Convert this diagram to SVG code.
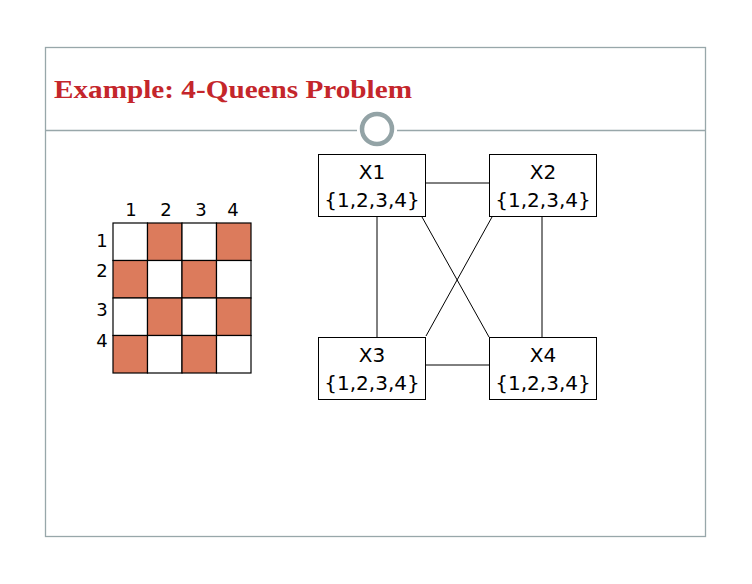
<svg xmlns="http://www.w3.org/2000/svg" width="752" height="584" viewBox="0 0 752 584">
<style>
.frame{fill:none;stroke:#98a7aa;stroke-width:1.3}
.cell{stroke:#000;stroke-width:1.2}
.w{fill:#fff}
.o{fill:#dc7b5c}
.lbl{font-family:"DejaVu Sans",sans-serif;font-size:18px;fill:#000;text-anchor:middle}
.box{fill:#fff;stroke:#000;stroke-width:1}
.nt{font-family:"DejaVu Sans",sans-serif;font-size:20px;fill:#000;text-anchor:middle}
.edge{stroke:#000;stroke-width:1;fill:none}
</style>
<rect width="752" height="584" fill="#fff"/>
<rect class="frame" x="45.5" y="47.5" width="660" height="489"/>
<line class="frame" x1="45" y1="130.5" x2="357" y2="130.5"/>
<line class="frame" x1="397" y1="130.5" x2="705" y2="130.5"/>
<circle cx="377" cy="129" r="15" fill="#fff" stroke="#93a3a6" stroke-width="4.5"/>
<text x="54" y="98" font-family="'Liberation Serif',serif" font-weight="bold" font-size="24.5" fill="#c4262b" textLength="358" lengthAdjust="spacingAndGlyphs">Example: 4-Queens Problem</text>
<g id="board">
<rect class="cell w" x="113" y="223" width="34.5" height="37.5"/>
<rect class="cell o" x="147.5" y="223" width="34.5" height="37.5"/>
<rect class="cell w" x="182" y="223" width="34.5" height="37.5"/>
<rect class="cell o" x="216.5" y="223" width="34.5" height="37.5"/>
<rect class="cell o" x="113" y="260.5" width="34.5" height="37.5"/>
<rect class="cell w" x="147.5" y="260.5" width="34.5" height="37.5"/>
<rect class="cell o" x="182" y="260.5" width="34.5" height="37.5"/>
<rect class="cell w" x="216.5" y="260.5" width="34.5" height="37.5"/>
<rect class="cell w" x="113" y="298" width="34.5" height="37.5"/>
<rect class="cell o" x="147.5" y="298" width="34.5" height="37.5"/>
<rect class="cell w" x="182" y="298" width="34.5" height="37.5"/>
<rect class="cell o" x="216.5" y="298" width="34.5" height="37.5"/>
<rect class="cell o" x="113" y="335.5" width="34.5" height="37.5"/>
<rect class="cell w" x="147.5" y="335.5" width="34.5" height="37.5"/>
<rect class="cell o" x="182" y="335.5" width="34.5" height="37.5"/>
<rect class="cell w" x="216.5" y="335.5" width="34.5" height="37.5"/>
<text class="lbl" x="131" y="216">1</text>
<text class="lbl" x="166" y="216">2</text>
<text class="lbl" x="201" y="216">3</text>
<text class="lbl" x="233" y="216">4</text>
<text class="lbl" x="102" y="247">1</text>
<text class="lbl" x="102" y="277">2</text>
<text class="lbl" x="102" y="316">3</text>
<text class="lbl" x="102" y="347">4</text>
</g>
<g id="connectors">
<line class="edge" x1="426" y1="183" x2="489" y2="183"/>
<line class="edge" x1="426" y1="365" x2="489" y2="365"/>
<line class="edge" x1="377" y1="217" x2="377" y2="337"/>
<line class="edge" x1="542" y1="217" x2="542" y2="337"/>
<line class="edge" x1="422" y1="217" x2="489" y2="337"/>
<line class="edge" x1="492" y1="217" x2="426" y2="336"/>
</g>
<g id="X1">
<rect class="box" x="318.5" y="154.5" width="107" height="62"/>
<text class="nt" x="372" y="179">X1</text>
<text class="nt" x="372" y="207">{1,2,3,4}</text>
</g>
<g id="X2">
<rect class="box" x="489.5" y="154.5" width="107" height="62"/>
<text class="nt" x="543" y="179">X2</text>
<text class="nt" x="543" y="207">{1,2,3,4}</text>
</g>
<g id="X3">
<rect class="box" x="318.5" y="337.5" width="107" height="62"/>
<text class="nt" x="372" y="362">X3</text>
<text class="nt" x="372" y="390">{1,2,3,4}</text>
</g>
<g id="X4">
<rect class="box" x="489.5" y="337.5" width="107" height="62"/>
<text class="nt" x="543" y="362">X4</text>
<text class="nt" x="543" y="390">{1,2,3,4}</text>
</g>
</svg>
